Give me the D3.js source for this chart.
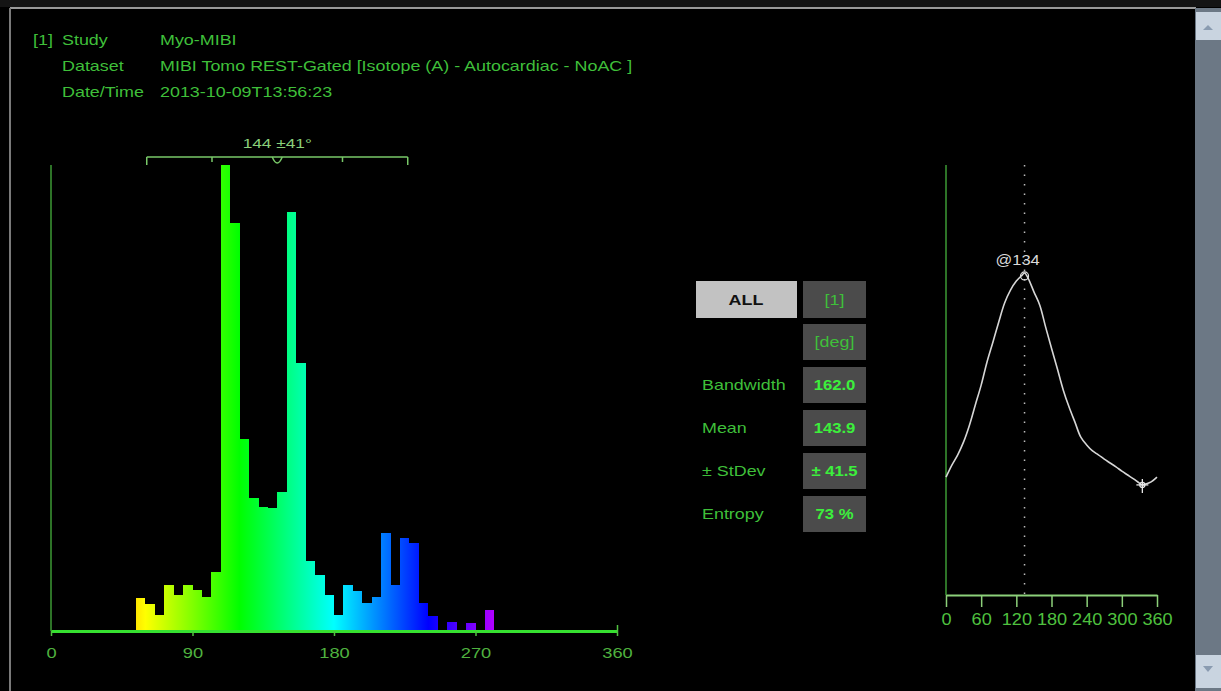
<!DOCTYPE html>
<html>
<head>
<meta charset="utf-8">
<script src="https://cdn.jsdelivr.net/npm/d3@7"></script>
<style>
  html, body { margin: 0; padding: 0; background: #000; overflow: hidden; }
  svg { display: block; }
</style>
</head>
<body>
<svg id="chart" width="1221" height="691"></svg>
<script>
// ---- study header ----
const headerKeys = ["Study", "Dataset", "Date/Time"];
const headerValues = ["Myo-MIBI", "MIBI Tomo REST-Gated [Isotope (A) - Autocardiac - NoAC ]", "2013-10-09T13:56:23"];

// ---- phase histogram (6° bins, relative counts) ----
const binWidth = 6;
const binStarts = [54, 60, 66, 72, 78, 84, 90, 96, 102, 108, 114, 120, 126, 132, 138, 144, 150, 156, 162, 168,
                   174, 180, 186, 192, 198, 204, 210, 216, 222, 228, 234, 240, 246, 252, 258, 264, 270, 276];
const binCounts = [7.1, 5.8, 3.4, 9.9, 7.7, 9.9, 8.8, 7.3, 12.7, 100, 87.6, 41.2, 28.5, 26.6, 26.4, 29.8, 89.9, 57.5, 15.0, 12.0,
                   7.7, 3.4, 9.9, 8.6, 6.0, 7.3, 21.0, 9.9, 20.0, 18.9, 6.0, 3.2, 0, 1.9, 0, 1.7, 0, 4.5];
const histTicks = [0, 90, 180, 270, 360];
const meanAngle = 143.9;
const stdAngle = 41.5;
const bracketLabel = "144 ±41°";

// ---- statistics table ----
const tableHeader = ["ALL", "[1]", "[deg]"];
const statLabels = ["Bandwidth", "Mean", "± StDev", "Entropy"];
const statValues = ["162.0", "143.9", "± 41.5", "73 %"];

// ---- phase distribution curve ----
const curveAngles = [0, 10, 20, 30, 40, 50, 60, 70, 80, 90, 100, 110, 120, 130, 134, 140, 150, 160, 170, 180,
                     190, 200, 210, 220, 230, 240, 250, 260, 270, 280, 290, 300, 310, 320, 330, 335, 340, 350, 360];
const curveValues = [27.4, 30.2, 32.6, 35.6, 39.5, 44.2, 48.8, 54.2, 58.8, 63.5, 67.9, 70.9, 73.0, 74.4, 74.9, 73.7, 70.5, 67.4, 62.3, 57.4,
                     52.6, 47.7, 43.7, 40.2, 36.7, 34.9, 33.5, 32.6, 31.6, 30.7, 29.8, 28.8, 27.9, 27.0, 26.0, 25.6, 25.8, 26.3, 27.4];
const curveTicks = [0, 60, 120, 180, 240, 300, 360];
const peakAngle = 134;
const markerAngle = 335;

const svg = d3.select("#chart");
const FONT = "'Liberation Sans', Arial, sans-serif";
const SX = 1.28;

function txt(g, x, y, s, o = {}) {
  return g.append("text")
    .attr("transform", `translate(${x},${y}) scale(${o.sx || SX},1)`)
    .attr("text-anchor", o.anchor || "start")
    .attr("font-family", FONT)
    .attr("font-size", o.size || 14)
    .attr("font-weight", o.weight || "normal")
    .attr("fill", o.fill || "#3fbf3a")
    .text(s);
}

// ---- window frame ----
svg.append("rect").attr("width", 1221).attr("height", 691).attr("fill", "#000");
svg.append("rect").attr("x", 0).attr("y", 0).attr("width", 1221).attr("height", 7).attr("fill", "#141414");
svg.append("line").attr("x1", 10).attr("x2", 1196).attr("y1", 8).attr("y2", 8).attr("stroke", "#9a9a9a").attr("stroke-width", 2);
svg.append("line").attr("x1", 10).attr("x2", 10).attr("y1", 8).attr("y2", 691).attr("stroke", "#7a7a7a").attr("stroke-width", 2);

// scrollbar
const sb = svg.append("g");
sb.append("rect").attr("x", 1195).attr("y", 8).attr("width", 26).attr("height", 683).attr("fill", "#6c7885");
sb.append("rect").attr("x", 1196).attr("y", 12).attr("width", 25).attr("height", 28).attr("fill", "#c9d4e0");
sb.append("rect").attr("x", 1196).attr("y", 655).attr("width", 25).attr("height", 33).attr("fill", "#c9d4e0");
sb.append("path").attr("d", "M1203,30 L1213,30 L1208,25 Z").attr("fill", "#8a9bb0");
sb.append("path").attr("d", "M1203,666 L1213,666 L1208,672 Z").attr("fill", "#8a9bb0");

// ---- header ----
const hdr = svg.append("g");
txt(hdr, 33, 45, "[1]");
headerKeys.forEach((k, i) => {
  txt(hdr, 62, 45 + i * 26, k);
  txt(hdr, 160, 45 + i * 26, headerValues[i]);
});

// ---- histogram ----
const hx = d3.scaleLinear().domain([0, 360]).range([51, 617]);
const hy = d3.scaleLinear().domain([0, 100]).range([631, 165]);

const defs = svg.append("defs");
const grad = defs.append("linearGradient").attr("id", "hueGrad")
  .attr("gradientUnits", "userSpaceOnUse")
  .attr("x1", hx(0)).attr("x2", hx(360)).attr("y1", 0).attr("y2", 0);
d3.range(0, 361, 15).forEach(h => {
  grad.append("stop").attr("offset", h / 360).attr("stop-color", d3.hsl(h, 1, 0.5).formatHex());
});

const hist = svg.append("g");
hist.selectAll("rect.bin")
  .data(binStarts.map((b, i) => ({ b, v: binCounts[i] })).filter(d => d.v > 0))
  .join("rect")
  .attr("class", "bin")
  .attr("x", d => Math.round(hx(d.b)))
  .attr("width", d => Math.round(hx(d.b + binWidth)) - Math.round(hx(d.b)))
  .attr("y", d => hy(d.v))
  .attr("height", d => hy(0) - hy(d.v))
  .attr("shape-rendering", "crispEdges")
  .attr("fill", "url(#hueGrad)");

// vertical axis
hist.append("line").attr("x1", hx(0)).attr("x2", hx(0)).attr("y1", hy(100)).attr("y2", hy(0))
  .attr("stroke", "#3c9a35").attr("stroke-width", 1.5);

// horizontal axis
const hAxis = hist.append("g").attr("transform", `translate(0,${hy(0)})`)
  .call(d3.axisBottom(hx).tickValues(histTicks).tickSize(5).tickSizeOuter(0).tickPadding(11));
hAxis.select(".domain").attr("stroke", "#36e030").attr("stroke-width", 3);
hAxis.selectAll(".tick line").attr("stroke", "#50c040").attr("stroke-width", 1.5);
hAxis.selectAll(".tick").filter(d => d === 360).select("line").attr("y1", -6);
hAxis.selectAll(".tick text")
  .attr("fill", "#4fb23f").attr("font-family", FONT).attr("font-size", 15)
  .attr("transform", `scale(1.22,1)`);

// mean ± 2 SD bracket
const br = hist.append("g").attr("stroke", "#78c868").attr("stroke-width", 1.5).attr("fill", "none");
const by = 157;
br.append("line").attr("x1", hx(meanAngle - 2 * stdAngle)).attr("x2", hx(meanAngle + 2 * stdAngle)).attr("y1", by).attr("y2", by);
[-2, 2].forEach(k => br.append("line").attr("x1", hx(meanAngle + k * stdAngle)).attr("x2", hx(meanAngle + k * stdAngle)).attr("y1", by).attr("y2", by + 8));
[-1, 1].forEach(k => br.append("line").attr("x1", hx(meanAngle + k * stdAngle)).attr("x2", hx(meanAngle + k * stdAngle)).attr("y1", by).attr("y2", by + 5));
const mx = hx(meanAngle);
br.append("path").attr("d", `M${mx - 5},${by} Q${mx},${by + 12} ${mx + 5},${by}`);
txt(hist, mx, by - 9, bracketLabel, { anchor: "middle", fill: "#8ad07a", size: 13.5 });

// ---- statistics table ----
const tb = svg.append("g");
tb.append("rect").attr("x", 696).attr("y", 281).attr("width", 101).attr("height", 37).attr("fill", "#c2c2c2");
txt(tb, 746, 305, tableHeader[0], { anchor: "middle", weight: "bold", fill: "#111", size: 14 });
tb.append("rect").attr("x", 803).attr("y", 281).attr("width", 63).attr("height", 37).attr("fill", "#4b4b4b");
txt(tb, 834.5, 305, tableHeader[1], { anchor: "middle", fill: "#3fbf3a" });
tb.append("rect").attr("x", 803).attr("y", 324).attr("width", 63).attr("height", 36).attr("fill", "#4b4b4b");
txt(tb, 834.5, 347, tableHeader[2], { anchor: "middle", fill: "#3fbf3a" });
statLabels.forEach((l, i) => {
  const y0 = 367 + i * 43;
  tb.append("rect").attr("x", 803).attr("y", y0).attr("width", 63).attr("height", 36).attr("fill", "#4b4b4b");
  txt(tb, 702, y0 + 23, l, { fill: "#3fbf3a" });
  txt(tb, 834.5, y0 + 23, statValues[i], { anchor: "middle", weight: "bold", fill: "#3cf03c", size: 14.5, sx: 1.15 });
});

// ---- phase distribution curve ----
const cx = d3.scaleLinear().domain([0, 360]).range([946, 1157]);
const cy = d3.scaleLinear().domain([0, 100]).range([595, 165]);
const cg = svg.append("g");

cg.append("line").attr("x1", cx(0)).attr("x2", cx(0)).attr("y1", cy(100)).attr("y2", cy(0))
  .attr("stroke", "#3c9a35").attr("stroke-width", 1.5);

const cAxis = cg.append("g").attr("transform", `translate(0,${cy(0)})`)
  .call(d3.axisBottom(cx).tickValues(curveTicks).tickSize(12).tickSizeOuter(0).tickPadding(6));
cAxis.select(".domain").attr("stroke", "#8cd07a").attr("stroke-width", 2);
cAxis.selectAll(".tick line").attr("stroke", "#8cd07a").attr("stroke-width", 1.5);
cAxis.selectAll(".tick text")
  .attr("fill", "#4fc03f").attr("font-family", FONT).attr("font-size", 16.5)
  .attr("transform", `scale(1.1,1)`);

// dotted line at the peak angle
cg.append("line").attr("x1", cx(peakAngle)).attr("x2", cx(peakAngle)).attr("y1", cy(100)).attr("y2", cy(0))
  .attr("stroke", "#bbbbbb").attr("stroke-width", 1.5).attr("stroke-dasharray", "1.5,8");

const pts = curveAngles.map((a, i) => [a, curveValues[i]]);
const line = d3.line().x(d => cx(d[0])).y(d => cy(d[1])).curve(d3.curveCatmullRom.alpha(0.5));
cg.append("path").attr("d", line(pts)).attr("fill", "none").attr("stroke", "#d6d6d6").attr("stroke-width", 1.6);

const peakVal = curveValues[curveAngles.indexOf(peakAngle)];
cg.append("circle").attr("cx", cx(peakAngle)).attr("cy", cy(peakVal) + 3).attr("r", 4)
  .attr("fill", "none").attr("stroke", "#e0e0e0").attr("stroke-width", 1.2);
txt(cg, cx(peakAngle) - 29, cy(peakVal) - 8, "@134", { fill: "#dadada", size: 15, sx: 1.1 });

const mkVal = curveValues[curveAngles.indexOf(markerAngle)];
const mxp = cx(markerAngle), myp = cy(mkVal);
const mk = cg.append("g").attr("stroke", "#e6e6e6").attr("stroke-width", 1.3).attr("fill", "none");
mk.append("line").attr("x1", mxp - 6).attr("x2", mxp + 6).attr("y1", myp).attr("y2", myp);
mk.append("line").attr("x1", mxp).attr("x2", mxp).attr("y1", myp - 6).attr("y2", myp + 8);
mk.append("circle").attr("cx", mxp).attr("cy", myp).attr("r", 2.5);
</script>
</body>
</html>
